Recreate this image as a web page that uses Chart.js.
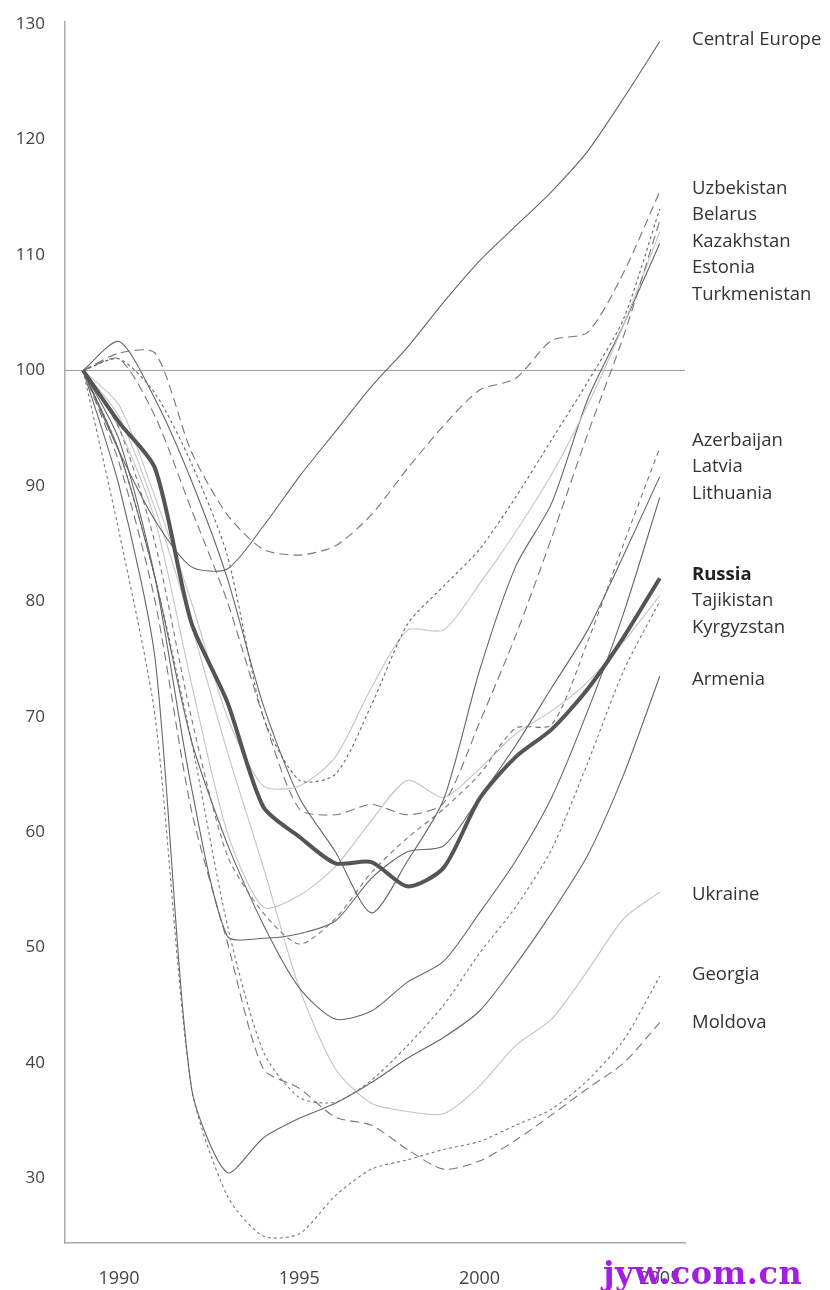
<!DOCTYPE html>
<html>
<head>
<meta charset="utf-8">
<script src="https://cdn.jsdelivr.net/npm/chart.js@4.4.1/dist/chart.umd.min.js"></script>
<style>
  html, body { margin: 0; padding: 0; background: #fff; }
  #wrap { position: relative; width: 830px; height: 1290px; }
  .lbl { position: absolute; left: 692px; font: 18.5px "Open Sans", sans-serif; color: #333; line-height: 20px; white-space: nowrap; }
  .lbl b { font-weight: 700; color: #222; }
  #wm { position: absolute; left: 603px; top: 1254px; font: bold 32px "DejaVu Serif", serif; color: #a21fe0; letter-spacing: 0.5px; }
</style>
</head>
<body>
<div id="wrap">
  <canvas id="mychart" width="830" height="1290"></canvas>
  <div class="lbl" style="top:28px">Central Europe</div>
  <div class="lbl" style="top:177px">Uzbekistan</div>
  <div class="lbl" style="top:203px">Belarus</div>
  <div class="lbl" style="top:230px">Kazakhstan</div>
  <div class="lbl" style="top:256px">Estonia</div>
  <div class="lbl" style="top:283px">Turkmenistan</div>
  <div class="lbl" style="top:429px">Azerbaijan</div>
  <div class="lbl" style="top:455px">Latvia</div>
  <div class="lbl" style="top:482px">Lithuania</div>
  <div class="lbl" style="top:563px"><b>Russia</b></div>
  <div class="lbl" style="top:589px">Tajikistan</div>
  <div class="lbl" style="top:616px">Kyrgyzstan</div>
  <div class="lbl" style="top:668px">Armenia</div>
  <div class="lbl" style="top:883px">Ukraine</div>
  <div class="lbl" style="top:963px">Georgia</div>
  <div class="lbl" style="top:1011px">Moldova</div>
  <div id="wm">jyw.com.cn</div>
</div>
<script>
const years = [1989, 1990, 1991, 1992, 1993, 1994, 1995, 1996, 1997, 1998, 1999, 2000, 2001, 2002, 2003, 2004, 2005];
const xTicks = [1990, 1995, 2000, 2005];
const yTicks = [30, 40, 50, 60, 70, 80, 90, 100, 110, 120, 130];

const centralEurope = [100, 93, 87, 83, 82.8, 86.5, 90.8, 94.7, 98.6, 102, 105.9, 109.5, 112.5, 115.5, 119, 123.6, 128.5];
const uzbekistan   = [100, 101.5, 101.5, 93, 87.5, 84.5, 84, 84.8, 87.5, 91.5, 95.2, 98.3, 99.3, 102.6, 103.3, 108.5, 115.5];
const belarus      = [100, 101, 98, 92, 84, 70, 64.5, 65, 71, 78, 81.3, 84.5, 89, 94, 99, 104.5, 114];
const kazakhstan   = [100, 101, 96, 88, 80, 70, 62, 61.5, 62.4, 61.5, 62.5, 69.5, 77, 85.5, 94.5, 103, 113];
const estonia      = [100, 97, 89, 80, 70, 64, 64, 66.5, 72.5, 77.5, 77.5, 81.5, 86, 91, 97, 104, 112];
const turkmenistan = [100, 102.5, 97.5, 90.5, 82, 71, 63, 58.3, 53, 57.5, 62.8, 74, 83, 88.5, 97.5, 104, 111];
const azerbaijan   = [100, 95, 85, 70, 58, 53, 50.3, 52.5, 56.5, 59.5, 62, 65, 69, 69.3, 76.5, 85, 93.3];
const latvia       = [100, 94, 82, 64, 51, 50.8, 51.2, 52.3, 56, 58.3, 58.8, 63, 67.5, 72.5, 77.5, 84, 90.8];
const lithuania    = [100, 93, 82, 68, 59, 52, 46.5, 43.8, 44.5, 47, 48.8, 53, 57.5, 63, 70.5, 79, 89];
const russia       = [100, 95.5, 91.5, 78.2, 71.3, 62.2, 59.6, 57.3, 57.4, 55.3, 56.9, 62.9, 66.5, 68.9, 72.4, 76.9, 82];
const tajikistan   = [100, 95, 87, 73, 60, 53.5, 54.5, 57, 61, 64.5, 63, 65.5, 68.5, 70.5, 73, 76.5, 80.5];
const kyrgyzstan   = [100, 93, 82, 68, 52, 41, 37, 36.6, 38.5, 41.5, 45, 49.5, 53.5, 58.5, 66, 74, 80];
const armenia      = [100, 90, 75, 38, 30.5, 33.5, 35.2, 36.5, 38.3, 40.4, 42.2, 44.5, 48.5, 53, 58, 65, 73.5];
const ukraine      = [100, 96, 88, 78, 67, 57, 46.5, 39.5, 36.5, 35.8, 35.6, 38, 41.5, 43.8, 48, 52.5, 54.8];
const georgia      = [100, 86, 70, 38, 28.5, 25, 25.2, 28.5, 30.8, 31.6, 32.5, 33.2, 34.6, 36, 38.5, 42, 47.5];
const moldova      = [100, 92, 80, 62, 50.5, 39.5, 37.8, 35.3, 34.6, 32.5, 30.8, 31.5, 33.3, 35.5, 37.8, 40, 43.5];

const xMin = 1988.5, xMax = 2005.7;

function pts(arr) {
    return arr.map((v, i) => ({ x: years[i], y: v }));
}

const SOLID = [], DOT = [3, 3], DASH = [5, 4], LONG = [9, 5];

function line(label, arr, color, dash, width) {
    return {
        label: label,
        data: pts(arr),
        borderColor: color,
        borderDash: dash,
        borderWidth: width || 1.1,
        pointRadius: 0,
        tension: 0.25,
        fill: false,
        order: 1
    };
}

const datasets = [
    Object.assign(line('Russia', russia, '#555', SOLID, 4), { order: 0 }),
    line('Central Europe', centralEurope, '#666', SOLID),
    line('Uzbekistan', uzbekistan, '#777', LONG),
    line('Belarus', belarus, '#666', DOT),
    line('Kazakhstan', kazakhstan, '#777', LONG),
    line('Estonia', estonia, '#c4c4c4', SOLID),
    line('Turkmenistan', turkmenistan, '#666', SOLID),
    line('Azerbaijan', azerbaijan, '#777', DASH),
    line('Latvia', latvia, '#666', SOLID),
    line('Lithuania', lithuania, '#666', SOLID),
    line('Tajikistan', tajikistan, '#c4c4c4', SOLID),
    line('Kyrgyzstan', kyrgyzstan, '#777', DOT),
    line('Armenia', armenia, '#666', SOLID),
    line('Ukraine', ukraine, '#c4c4c4', SOLID),
    line('Georgia', georgia, '#777', DOT),
    line('Moldova', moldova, '#777', LONG),
    {
        label: 'base',
        data: [{ x: xMin, y: 100 }, { x: xMax, y: 100 }],
        borderColor: '#999',
        borderWidth: 1,
        pointRadius: 0,
        order: 2
    }
];

const ctx = document.getElementById('mychart');
new Chart(ctx, {
    type: 'line',
    data: { datasets: datasets },
    options: {
        responsive: false,
        animation: false,
        layout: { padding: { left: 0, right: 145, top: 12, bottom: 0 } },
        plugins: {
            legend: { display: false },
            tooltip: { enabled: false }
        },
        scales: {
            x: {
                type: 'linear',
                min: xMin,
                max: xMax,
                grid: { display: false },
                border: { display: true, color: '#aaa', width: 1.5 },
                afterBuildTicks: s => { s.ticks = xTicks.map(v => ({ value: v })); },
                afterFit: s => { s.height = 47; },
                ticks: {
                    padding: 17,
                    color: '#444',
                    font: { family: 'Open Sans', size: 18 },
                    callback: v => String(v)
                }
            },
            y: {
                min: 24.4,
                max: 130.17,
                grid: { display: false },
                border: { display: true, color: '#aaa', width: 1.5 },
                afterBuildTicks: s => { s.ticks = yTicks.map(v => ({ value: v })); },
                afterFit: s => { s.width = 65; },
                ticks: {
                    padding: 12,
                    color: '#444',
                    font: { family: 'Open Sans', size: 17 },
                    callback: v => String(v)
                }
            }
        }
    }
});
</script>
</body>
</html>
